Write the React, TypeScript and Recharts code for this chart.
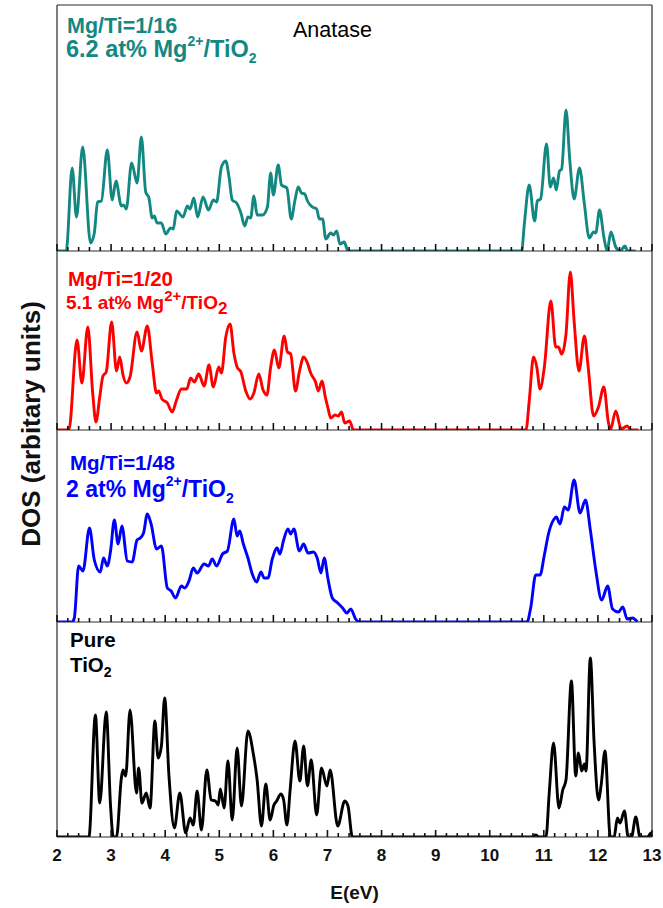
import React from 'react';
import { LineChart, Line, XAxis, YAxis, Label } from 'recharts';

const FONT = '"Liberation Sans", Arial, Helvetica, sans-serif';

// ---- Mg/Ti = 1/16 (6.2 at%) ----
const eMg16 = [
  2.0, 2.17, 2.28, 2.36, 2.475, 2.62, 2.69, 2.75, 2.82, 2.93,
  3.02, 3.09, 3.19, 3.23, 3.28, 3.38, 3.48, 3.56, 3.64, 3.70,
  3.76, 3.80, 3.85, 3.93, 4.01, 4.10, 4.15, 4.21, 4.33, 4.41,
  4.46, 4.53, 4.60, 4.70, 4.80, 4.89, 4.95, 5.04, 5.12, 5.18,
  5.24, 5.32, 5.40, 5.47, 5.53, 5.58, 5.64, 5.70, 5.80, 5.89,
  5.95, 6.00, 6.09, 6.15, 6.25, 6.33, 6.40, 6.46, 6.52, 6.58,
  6.63, 6.72, 6.80, 6.85, 6.91, 6.97, 7.06, 7.11, 7.17, 7.23,
  7.31, 7.38, 10.59, 10.64, 10.73, 10.83, 10.88, 10.94, 11.05, 11.12,
  11.18, 11.23, 11.29, 11.33, 11.41, 11.48, 11.56, 11.66, 11.75, 11.84,
  11.92, 11.96, 12.03, 12.11, 12.17, 12.24, 12.33, 12.41, 12.50, 12.55,
  12.70,
];
const dosMg16 = [
  0, 0, 83, 34, 104, 8, 18, 49, 50, 101,
  51, 70, 45, 46, 42, 88, 68, 114, 59, 53,
  33, 35, 28, 28, 17, 23, 22, 40, 34, 45,
  42, 53, 34, 54, 41, 51, 49, 84, 90, 74,
  51, 48, 38, 25, 34, 33, 55, 36, 36, 44,
  78, 56, 86, 66, 63, 32, 51, 64, 58, 57,
  50, 44, 42, 32, 32, 12, 18, 16, 20, 7,
  9, 0, 0, 27, 66, 30, 50, 52, 107, 64,
  73, 61, 80, 82, 141, 91, 52, 83, 47, 13,
  19, 18, 41, 14, 0, 19, 4, 0, 5, 0,
  0,
];

// ---- Mg/Ti = 1/20 (5.1 at%) ----
const eMg20 = [
  2.0, 2.22, 2.37, 2.46, 2.57, 2.66, 2.72, 2.79, 2.85, 2.91,
  3.01, 3.10, 3.16, 3.22, 3.28, 3.35, 3.48, 3.56, 3.67, 3.76,
  3.84, 3.88, 3.94, 4.04, 4.13, 4.21, 4.30, 4.40, 4.47, 4.54,
  4.62, 4.72, 4.81, 4.89, 4.99, 5.04, 5.12, 5.20, 5.27, 5.33,
  5.40, 5.49, 5.57, 5.64, 5.73, 5.81, 5.88, 5.95, 6.02, 6.10,
  6.20, 6.26, 6.32, 6.41, 6.48, 6.56, 6.63, 6.69, 6.78, 6.83,
  6.90, 6.96, 7.01, 7.06, 7.14, 7.20, 7.26, 7.32, 7.41, 7.48,
  10.67, 10.73, 10.81, 10.87, 10.93, 11.01, 11.13, 11.22, 11.27, 11.33,
  11.41, 11.49, 11.56, 11.65, 11.75, 11.82, 11.92, 12.01, 12.11, 12.19,
  12.23, 12.33, 12.43, 12.54, 12.61, 12.75,
];
const dosMg20 = [
  0, 0, 90, 47, 103, 37, 8, 33, 54, 58,
  108, 59, 73, 55, 47, 53, 98, 79, 104, 67,
  37, 39, 31, 27, 18, 30, 41, 41, 52, 48,
  56, 44, 65, 43, 63, 57, 93, 106, 77, 63,
  58, 39, 31, 37, 56, 40, 35, 63, 80, 62,
  94, 78, 76, 39, 58, 73, 67, 57, 48, 39,
  49, 33, 22, 12, 15, 14, 18, 7, 9, 0,
  0, 29, 73, 63, 41, 63, 129, 83, 83, 76,
  96, 158, 109, 59, 94, 63, 14, 23, 43, 9,
  0, 19, 1, 4, 0, 0,
];

// ---- Mg/Ti = 1/48 (2 at%) ----
const eMg48 = [
  2.0, 2.28, 2.32, 2.40, 2.48, 2.60, 2.69, 2.80, 2.86, 2.93,
  2.99, 3.06, 3.13, 3.20, 3.30, 3.39, 3.48, 3.54, 3.60, 3.67,
  3.74, 3.84, 3.93, 4.04, 4.11, 4.19, 4.30, 4.36, 4.44, 4.52,
  4.59, 4.72, 4.80, 4.87, 4.95, 5.06, 5.15, 5.27, 5.33, 5.38,
  5.44, 5.53, 5.61, 5.69, 5.77, 5.83, 5.90, 5.98, 6.07, 6.12,
  6.19, 6.27, 6.32, 6.38, 6.48, 6.56, 6.64, 6.74, 6.81, 6.88,
  6.94, 7.01, 7.09, 7.19, 7.28, 7.36, 7.43, 7.52, 7.59, 10.69,
  10.76, 10.85, 10.93, 11.01, 11.09, 11.19, 11.23, 11.30, 11.38, 11.45,
  11.56, 11.67, 11.77, 11.86, 11.96, 12.07, 12.18, 12.27, 12.38, 12.46,
  12.54, 12.64, 12.73,
];
const dosMg48 = [
  0, 0, 4, 56, 51, 94, 62, 50, 64, 56,
  71, 102, 78, 96, 61, 60, 82, 84, 89, 108,
  98, 73, 76, 34, 31, 24, 36, 34, 41, 54,
  49, 58, 56, 63, 56, 68, 71, 103, 86, 91,
  79, 64, 48, 40, 50, 44, 44, 63, 74, 68,
  82, 93, 88, 93, 71, 78, 69, 70, 64, 49,
  64, 43, 24, 19, 14, 9, 13, 3, 0, 0,
  15, 47, 47, 67, 89, 103, 105, 98, 115, 112,
  142, 109, 122, 92, 52, 22, 36, 13, 10, 15,
  3, 4, 0,
];

// ---- Pure TiO2 ----
const ePure = [
  2.0, 2.59, 2.71, 2.79, 2.91, 2.99, 3.04, 3.10, 3.19, 3.22,
  3.27, 3.35, 3.47, 3.51, 3.57, 3.65, 3.72, 3.81, 3.87, 3.93,
  3.99, 4.07, 4.17, 4.27, 4.38, 4.46, 4.52, 4.59, 4.67, 4.77,
  4.85, 4.93, 4.98, 5.02, 5.09, 5.16, 5.24, 5.33, 5.41, 5.53,
  5.63, 5.70, 5.78, 5.86, 5.94, 6.01, 6.06, 6.14, 6.19, 6.25,
  6.31, 6.40, 6.49, 6.56, 6.63, 6.70, 6.80, 6.89, 6.99, 7.05,
  7.19, 7.32, 7.38, 7.46, 10.79, 10.85, 10.91, 11.04, 11.10, 11.18,
  11.28, 11.35, 11.41, 11.51, 11.59, 11.64, 11.70, 11.75, 11.78, 11.86,
  11.93, 12.01, 12.06, 12.13, 12.23, 12.30, 12.36, 12.41, 12.49, 12.56,
  12.62, 12.70, 12.78, 12.92, 12.98, 13.0,
];
const dosPure = [
  0, 0, 122, 34, 125, 31, 0, 0, 59, 67,
  61, 127, 44, 69, 34, 44, 29, 116, 79, 91,
  139, 61, 9, 44, 4, 19, 12, 46, 7, 67,
  37, 36, 32, 48, 29, 76, 17, 89, 31, 106,
  83, 57, 11, 53, 17, 32, 36, 43, 37, 12,
  47, 96, 56, 91, 51, 77, 22, 69, 51, 67,
  11, 36, 31, 0, 0, 2, 0, 0, 44, 94,
  29, 47, 57, 156, 61, 84, 66, 73, 66, 179,
  94, 37, 52, 86, 0, 0, 19, 14, 26, 0,
  0, 20, 0, 0, 4, 0,
];

// ---- axis ticks ----
const xTicks = [
  2, 2.2, 2.4, 2.6, 2.8, 3, 3.2, 3.4, 3.6, 3.8,
  4, 4.2, 4.4, 4.6, 4.8, 5, 5.2, 5.4, 5.6, 5.8,
  6, 6.2, 6.4, 6.6, 6.8, 7, 7.2, 7.4, 7.6, 7.8,
  8, 8.2, 8.4, 8.6, 8.8, 9, 9.2, 9.4, 9.6, 9.8,
  10, 10.2, 10.4, 10.6, 10.8, 11, 11.2, 11.4, 11.6, 11.8,
  12, 12.2, 12.4, 12.6, 12.8, 13,
];
const xTickLabels = [2, 3, 4, 5, 6, 7, 8, 9, 10, 11, 12, 13];

const TEAL = '#138882';
const RED = '#ff0000';
const BLUE = '#0000ff';
const BLACK = '#000000';
const FRAME = '#2a2a2a';

const build = (e: number[], v: number[]) => e.map((x, i) => ({ E: x, v: v[i] }));

const panels = [
  { id: 'p16', data: build(eMg16, dosMg16), color: TEAL, plotTop: 5, plotBottom: 251, first: true, last: false },
  { id: 'p20', data: build(eMg20, dosMg20), color: RED, plotTop: 251, plotBottom: 430, first: false, last: false },
  { id: 'p48', data: build(eMg48, dosMg48), color: BLUE, plotTop: 430, plotBottom: 622, first: false, last: false },
  { id: 'pure', data: build(ePure, dosPure), color: BLACK, plotTop: 622, plotBottom: 837, first: false, last: true },
];

const makeTick = (showLabel: boolean) => (props: any) => {
  const { x, y, payload } = props;
  const v = payload.value as number;
  const major = Math.abs(v - Math.round(v)) < 1e-6;
  return (
    <g className="dos-tick">
      <path d={`M${x},${y}V${y - (major ? 7 : 4)}`} stroke="#111" strokeWidth={1.6} fill="none" />
      {showLabel && major && xTickLabels.includes(Math.round(v)) && (
        <text x={x} y={y + 24} textAnchor="middle" fontFamily={FONT} fontWeight="bold" fontSize={17} fill="#111">
          {Math.round(v)}
        </text>
      )}
    </g>
  );
};

function Panel({ p }: { p: (typeof panels)[number] }) {
  const topAxisH = p.first ? 1 : 0;
  const mTop = p.first ? 1 : 2;
  const axisH = p.last ? 68 : 1;
  const mBottom = p.last ? 0 : 1;
  const h = p.plotBottom - p.plotTop;
  return (
    <div style={{ position: 'absolute', left: 0, top: p.plotTop - mTop - topAxisH }}>
      <LineChart
        width={663}
        height={mTop + topAxisH + h + axisH + mBottom}
        data={p.data}
        margin={{ top: mTop, right: 10, bottom: mBottom, left: 56 }}
      >
        <Line
          type="monotone"
          dataKey="v"
          stroke={p.color}
          strokeWidth={2.9}
          dot={false}
          activeDot={false}
          isAnimationActive={false}
        />
        <XAxis
          dataKey="E"
          type="number"
          domain={[2, 13]}
          ticks={xTicks}
          interval={0}
          tickLine={false}
          tickSize={0}
          tickMargin={0}
          height={axisH}
          axisLine={{ stroke: FRAME, strokeWidth: 1.2 }}
          tick={makeTick(p.last)}
          allowDataOverflow
        >
          {p.last && (
            <Label
              value="E(eV)"
              position="insideBottom"
              offset={6}
              style={{ fontFamily: FONT, fontWeight: 'bold', fontSize: 19, fill: '#111' }}
            />
          )}
        </XAxis>
        {p.first && (
          <XAxis
            xAxisId="top"
            orientation="top"
            type="number"
            domain={[2, 13]}
            height={1}
            tick={false}
            tickLine={false}
            axisLine={{ stroke: FRAME, strokeWidth: 1.2 }}
          />
        )}
        <YAxis
          type="number"
          domain={[0, h]}
          width={1}
          tick={false}
          tickLine={false}
          axisLine={{ stroke: FRAME, strokeWidth: 1.2 }}
          allowDataOverflow
        />
        <YAxis
          yAxisId="r"
          orientation="right"
          type="number"
          domain={[0, h]}
          width={1}
          tick={false}
          tickLine={false}
          axisLine={{ stroke: FRAME, strokeWidth: 1.2 }}
        />
      </LineChart>
    </div>
  );
}

export default function App() {
  return (
    <div style={{ position: 'absolute', left: 0, top: 0, width: 663, height: 908, background: '#fff', fontFamily: FONT }}>
      {panels.map((p) => (
        <Panel key={p.id} p={p} />
      ))}
      <svg
        width={663}
        height={908}
        style={{ position: 'absolute', left: 0, top: 0, pointerEvents: 'none' }}
        fontFamily={FONT}
      >
        <text
          transform="translate(40,424) rotate(-90)"
          textAnchor="middle"
          fontWeight="bold"
          fontSize={26}
          fill="#111"
        >
          DOS (arbitary units)
        </text>

        <text x={293} y={37} fontSize={21.5} fill="#000">Anatase</text>

        <text x={67} y={33} fontSize={21.5} fontWeight="bold" fill={TEAL}>Mg/Ti=1/16</text>
        <text x={66} y={57} fontSize={23.5} fontWeight="bold" fill={TEAL}>
          6.2 at% Mg
          <tspan dy={-11} fontSize={14}>2+</tspan>
          <tspan dy={11} fontSize={23.5}>/TiO</tspan>
          <tspan dy={6} fontSize={14}>2</tspan>
        </text>

        <text x={68} y={286} fontSize={20.5} fontWeight="bold" fill={RED}>Mg/Ti=1/20</text>
        <text x={66} y={309} fontSize={19} fontWeight="bold" fill={RED}>
          5.1 at% Mg
          <tspan dy={-8} fontSize={15}>2+</tspan>
          <tspan dy={8} fontSize={19}>/TiO</tspan>
          <tspan dy={5} fontSize={17}>2</tspan>
        </text>

        <text x={70} y={470} fontSize={20.5} fontWeight="bold" fill={BLUE}>Mg/Ti=1/48</text>
        <text x={66} y={497} fontSize={23} fontWeight="bold" fill={BLUE}>
          2 at% Mg
          <tspan dy={-11} fontSize={14}>2+</tspan>
          <tspan dy={11} fontSize={23}>/TiO</tspan>
          <tspan dy={6} fontSize={14}>2</tspan>
        </text>

        <text x={70} y={647} fontSize={20.5} fontWeight="bold" fill="#000">Pure</text>
        <text x={70} y={672} fontSize={20.5} fontWeight="bold" fill="#000">
          TiO
          <tspan dy={5} fontSize={14}>2</tspan>
        </text>
      </svg>
    </div>
  );
}
